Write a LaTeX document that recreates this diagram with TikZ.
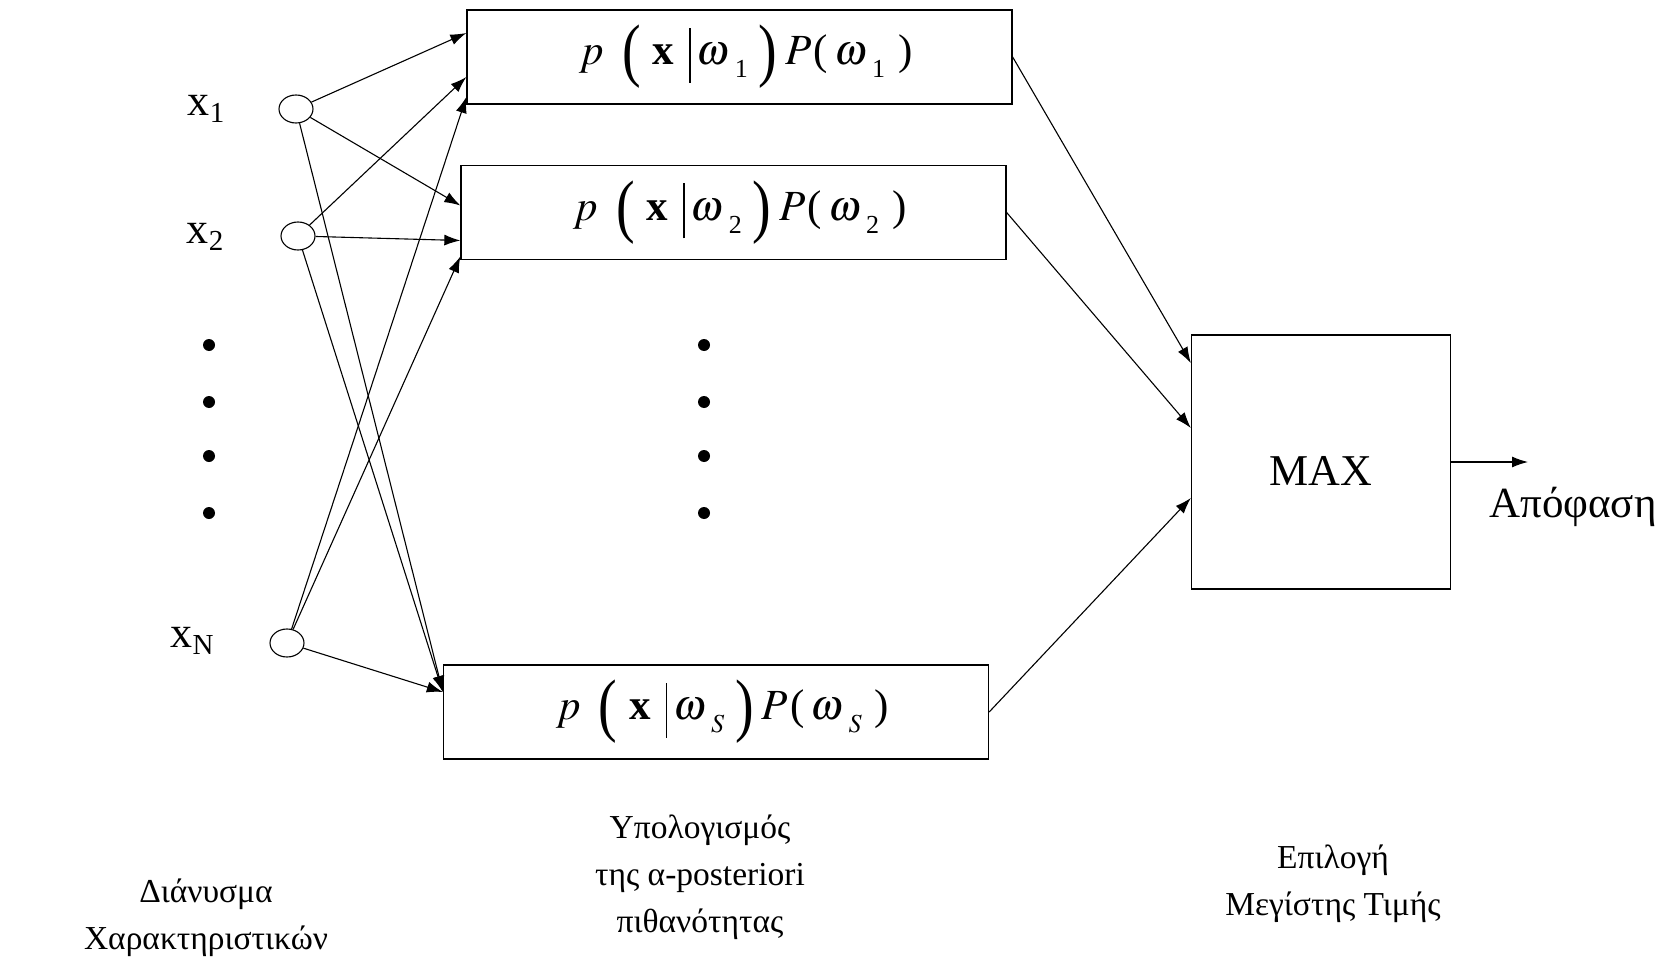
\documentclass[tikz,border=0pt]{standalone}
\usepackage{graphicx}
\usepackage{mathptmx}
\usepackage[no-math]{fontspec}
\setmainfont{Liberation Serif}
\usetikzlibrary{shapes.geometric,
	arrows.meta,
	calc,
	positioning}
\tikzstyle{pbox}=[draw, line width=1.3pt, minimum width=545pt, minimum height=94pt, inner sep=0,
		font=\fontsize{43}{48}\selectfont]
\tikzstyle{maxbox}=[draw, line width=1.3pt, minimum width=259pt, minimum height=254pt, inner sep=0,
		font=\fontsize{44}{48}\selectfont]
\tikzstyle{inp}=[draw, ellipse, line width=1.1pt, minimum width=34pt, minimum height=28pt, inner sep=0]
\tikzstyle{dot}=[fill, circle, minimum size=12pt, inner sep=0]
\tikzstyle{arr}=[-{Latex[length=16pt,width=11pt]}, line width=1.1pt]
\tikzstyle{lbl}=[align=center, font=\fontsize{33.5}{47}\selectfont]
\newcommand{\xlab}[1]{{\fontsize{44}{44}\selectfont x\raisebox{-0.35ex}{\fontsize{29}{29}\selectfont #1}}}
\newcommand{\bigp}[1]{\raisebox{-9pt}{\scalebox{1.3}[1.63]{#1}}}
\newcommand{\lowsub}[1]{\raisebox{-13pt}{\fontsize{26}{26}\selectfont #1}}
\newcommand{\post}[1]{\hspace*{13pt}$p$\hspace{18pt}\bigp{(}\hspace{12pt}\textbf{x}\hspace{15pt}%
	\rule[-18pt]{1.3pt}{55pt}\hspace{6pt}$\omega$\hspace{5pt}\lowsub{#1}\hspace{11pt}\bigp{)}%
	\hspace{8pt}$P$\hspace{2pt}(\hspace{6pt}$\omega$\hspace{5pt}\lowsub{#1}\hspace{13pt})}

\begin{document}
\begin{tikzpicture}[x=1pt, y=-1pt]
	\useasboundingbox (0,0) rectangle (1675,960);
	% inputs
	\node[inp] (c1) at (296,109) {};
	\node[inp] (c2) at (298,236) {};
	\node[inp] (cN) at (287,643) {};
	\node (l1) at (206,109) {\xlab{1}};
	\node (l2) at (205,237) {\xlab{2}};
	\node (lN) at (192,641) {\xlab{N}};
	% products
	\node[pbox] (b1) at (739.5,57) {\post{1}};
	\node[pbox] (b2) at (733.5,212.5) {\post{2}};
	\node[pbox] (b3) at (716,712) {\post{$S$}};
	\node[maxbox] (m) at (1321,462) {\smash{\raisebox{-23pt}{MAX}}};
	\coordinate (out) at (1528,462);
	% dots
	\foreach \y [count=\i] in {345,402,456,513} {
		\node[dot] (dl\i) at (209,\y) {};
		\node[dot] (dm\i) at (704,\y) {};
	}
	% connections
	\draw[arr] (c1) -- ([yshift=24pt]b1.west);
	\draw[arr] (c1) -- ([yshift=7pt]b2.west);
	\draw[arr] (c1) -- ([yshift=20pt]b3.west);
	\draw[arr] (c2) -- ([yshift=-20pt]b1.west);
	\draw[arr] (c2) -- ([yshift=-28pt]b2.west);
	\draw[arr] (c2) -- ([yshift=20pt]b3.west);
	\draw[arr] (cN) -- ([yshift=-40pt]b1.west);
	\draw[arr] (cN) -- ([yshift=-44pt]b2.west);
	\draw[arr] (cN) -- ([yshift=20pt]b3.west);
	\draw[arr] (b1.east) -- ([yshift=99pt]m.west);
	\draw[arr] (b2.east) -- ([yshift=34pt]m.west);
	\draw[arr] (b3.east) -- ([yshift=-36pt]m.west);
	\draw[arr] (m.east) -- (out);
	% captions
	\node[font=\fontsize{43}{48}\selectfont] (dec) at (1573,507) {Απόφαση};
	\node[lbl] (t1) at (206,918) {Διάνυσμα\\Χαρακτηριστικών};
	\node[lbl] (t2) at (700,877) {Υπολογισμός\\της α-posteriori\\πιθανότητας};
	\node[lbl] (t3) at (1333,884) {Επιλογή\\Μεγίστης Τιμής};
\end{tikzpicture}
\end{document}
